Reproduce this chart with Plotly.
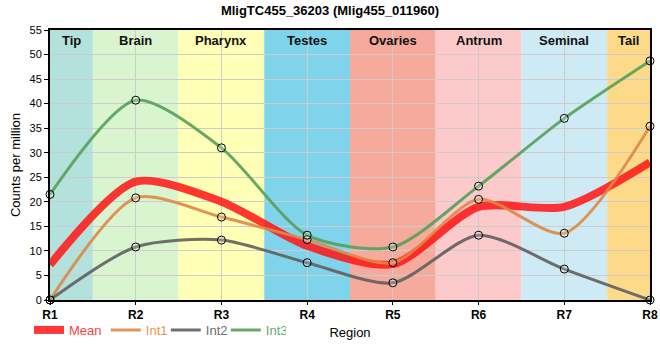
import plotly.graph_objects as go

regions = ["R1", "R2", "R3", "R4", "R5", "R6", "R7", "R8"]
tissues = ["Tip", "Brain", "Pharynx", "Testes", "Ovaries", "Antrum", "Seminal", "Tail"]
int1 = [0.0, 20.8, 16.9, 12.3, 7.6, 20.5, 13.6, 35.4]
int2 = [0.0, 10.8, 12.2, 7.6, 3.5, 13.2, 6.3, 0.0]
int3 = [21.5, 40.7, 31.0, 13.2, 10.8, 23.2, 37.0, 48.7]
mean = [(a + b + c) / 3 for a, b, c in zip(int1, int2, int3)]

band_colors = ["#b3e2dd", "#d8f5d0", "#ffffb5", "#7fd4ec", "#f5aa9c", "#fdcacb", "#ceeaf4", "#fdd98a"]
xs = list(range(len(regions)))
FONT = "Liberation Sans"

fig = go.Figure()

series = [
    ("Mean", mean, "rgba(255,20,20,0.85)", "#ff4040", 8, False, "legend"),
    ("Int1", int1, "rgba(222,136,70,0.9)", "#e8945a", 3, True, "legend2"),
    ("Int2", int2, "rgba(95,95,95,0.9)", "#707070", 3, True, "legend2"),
    ("Int3", int3, "rgba(85,160,90,0.9)", "#66aa70", 3, True, "legend2"),
]
for name, vals, col, tcol, w, mk, lg in series:
    fig.add_trace(go.Scatter(
        x=xs, y=vals, mode="lines",
        name="<span style='color:%s'>%s</span>" % (tcol, name),
        line=dict(color=col, width=w, shape="spline", smoothing=0.75),
        cliponaxis=False, legend=lg,
    ))
for name, vals, col, tcol, w, mk, lg in series:
    if mk:
        fig.add_trace(go.Scatter(
            x=xs, y=vals, mode="markers", showlegend=False, hoverinfo="skip",
            marker=dict(size=8, color="rgba(255,255,255,0.2)",
                        line=dict(color="black", width=1)),
            cliponaxis=False,
        ))

shapes = []
annotations = []
n = len(regions)
for i, (t, c) in enumerate(zip(tissues, band_colors)):
    x0 = max(i - 0.5, 0)
    x1 = min(i + 0.5, n - 1)
    shapes.append(dict(type="rect", xref="x", yref="y", x0=x0, x1=x1, y0=0, y1=55,
                       fillcolor=c, line=dict(width=0), layer="below"))
    annotations.append(dict(x=(x0 + x1) / 2, y=55, xref="x", yref="y", text="<b>%s</b>" % t,
                            showarrow=False, yanchor="top", yshift=-1,
                            font=dict(family=FONT, size=13, color="#111")))

leg_common = dict(orientation="h", y=-0.111, yanchor="middle", xanchor="left",
                  font=dict(family=FONT, size=13), bgcolor="rgba(0,0,0,0)")

fig.update_layout(
    width=660, height=360,
    margin=dict(l=50, r=10, t=30, b=60, autoexpand=False),
    paper_bgcolor="white", plot_bgcolor="white",
    title=dict(text="<b>MligTC455_36203 (Mlig455_011960)</b>", x=0.5, xanchor="center",
               y=0.985, yanchor="top", font=dict(family=FONT, size=13, color="black")),
    font=dict(family=FONT, size=11, color="black"),
    shapes=shapes, annotations=annotations,
    legend=dict(x=-0.035, **leg_common),
    legend2=dict(x=0.093, entrywidth=15, entrywidthmode="pixels", **leg_common),
    xaxis=dict(range=[0, n - 1], tickvals=xs, ticktext=["<b>%s</b>" % r for r in regions],
               automargin=False,
               showgrid=True, gridcolor="#cccccc", gridwidth=1,
               showline=True, linecolor="black", linewidth=2, mirror=True,
               ticks="outside", ticklen=3, tickcolor="black",
               tickfont=dict(family=FONT, size=12),
               title=dict(text="Region", standoff=6, font=dict(family=FONT, size=13)),
               zeroline=False),
    yaxis=dict(range=[0, 55], dtick=5, showgrid=True, gridcolor="#cccccc", gridwidth=1,
               automargin=False,
               showline=True, linecolor="black", linewidth=2, mirror=True,
               ticks="outside", ticklen=4, tickcolor="black",
               tickfont=dict(family=FONT, size=11),
               title=dict(text="Counts per million", standoff=6, font=dict(family=FONT, size=13)),
               zeroline=False),
)

fig.write_html("out.html", config={"displayModeBar": False},
               post_script="document.body.style.margin='0px';")
